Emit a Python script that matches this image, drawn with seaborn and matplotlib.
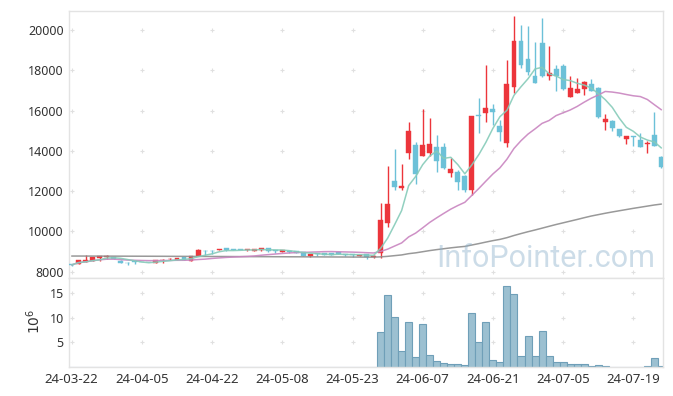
import numpy as np
import pandas as pd
import matplotlib
matplotlib.use('Agg')
import matplotlib.pyplot as plt
import seaborn as sns

# ---------------- data ----------------
opens = [8360, 8400, 8470, 8550, 8690, 8750, 8730, 8550, 8440, 8550,
         8490, 8480, 8450, 8560, 8610, 8580, 8720, 8550, 8770, 9040,
         9040, 9070, 9160, 9100, 9090, 9070, 9050, 9060, 9170, 9060,
         8980, 9040, 9010, 8960, 8800, 8930, 8930, 8910, 8960, 8880,
         8870, 8770, 8880, 8710, 8910, 10430, 12500, 12160, 13910, 14290,
         13760, 13880, 14210, 14210, 12920, 12960, 12750, 12060, 15780, 15860,
         16080, 15230, 14400, 17160, 19450, 18560, 17720, 19380, 17720, 18050,
         18210, 16690, 16890, 17060, 17320, 17100, 15450, 15480, 15090, 14570,
         14720, 14540, 14330, 14770, 13680]
highs = [8380, 8580, 8810, 8740, 8780, 8820, 8740, 8560, 8470, 8560,
         8500, 8490, 8580, 8620, 8680, 8670, 8730, 8770, 9130, 9080,
         9080, 9140, 9170, 9110, 9100, 9120, 9120, 9180, 9180, 9100,
         9080, 9050, 9020, 8970, 8890, 8940, 8940, 8920, 8970, 8890,
         8880, 8850, 8890, 8810, 11390, 13250, 14080, 13350, 15450, 14450,
         16080, 15620, 14790, 14400, 13660, 13050, 12800, 15730, 16610, 18260,
         16310, 15530, 18510, 20700, 20250, 20200, 19430, 20610, 19210, 18260,
         18300, 17700, 17600, 17490, 17550, 17150, 15810, 15530, 15100, 14730,
         14720, 14900, 14490, 15940, 13750]
lows = [8310, 8390, 8460, 8540, 8520, 8640, 8640, 8410, 8350, 8380,
        8460, 8460, 8420, 8420, 8580, 8570, 8580, 8520, 8760, 8830,
        8880, 9060, 9050, 9070, 9060, 9050, 9040, 9050, 9000, 8930,
        8970, 8940, 8920, 8790, 8710, 8800, 8840, 8820, 8870, 8760,
        8720, 8760, 8630, 8700, 8670, 10200, 12060, 12060, 13580, 12350,
        13760, 13750, 12970, 13120, 12720, 12060, 11970, 11810, 14900, 15420,
        15280, 14490, 14210, 16860, 18100, 17770, 17380, 17650, 17520, 16990,
        17000, 16690, 16860, 16770, 16950, 15650, 15040, 14990, 14700, 14330,
        14240, 14170, 13880, 14240, 13170]
closes = [8340, 8570, 8570, 8720, 8770, 8770, 8650, 8420, 8410, 8470,
          8470, 8470, 8570, 8600, 8640, 8660, 8590, 8760, 9080, 9010,
          9010, 9100, 9060, 9080, 9070, 9090, 9110, 9170, 9010, 9040,
          9060, 8960, 8930, 8800, 8880, 8900, 8850, 8830, 8880, 8850,
          8840, 8840, 8750, 8800, 10570, 11360, 12220, 12250, 14990, 12840,
          14290, 14340, 13510, 13160, 13110, 12470, 12060, 15730, 15730, 16140,
          15940, 14950, 17320, 19450, 18260, 17930, 17380, 17720, 17850, 17720,
          17050, 17110, 17060, 17400, 16990, 15670, 15600, 15150, 14720, 14720,
          14670, 14180, 14400, 14260, 13210]
# volume in millions of shares
volumes = [0.04, 0.05, 0.04, 0.03, 0.04, 0.03, 0.03, 0.04, 0.03, 0.03,
           0.02, 0.02, 0.03, 0.03, 0.02, 0.02, 0.03, 0.03, 0.06, 0.04,
           0.03, 0.03, 0.03, 0.02, 0.02, 0.02, 0.02, 0.03, 0.03, 0.02,
           0.02, 0.02, 0.02, 0.03, 0.03, 0.02, 0.02, 0.02, 0.02, 0.02,
           0.02, 0.02, 0.03, 0.03, 7.0, 14.5, 10.2, 3.2, 9.2, 2.1,
           8.65, 2.5, 1.15, 0.9, 0.67, 0.67, 0.47, 11.0, 5.15, 9.2,
           1.5, 0.95, 16.3, 14.7, 2.3, 6.35, 2.3, 7.35, 2.2, 1.1,
           1.1, 0.7, 0.7, 0.7, 0.3, 0.47, 0.27, 0.1, 0.1, 0.1,
           0.1, 0.1, 0.27, 1.9, 0.27]
# long moving average (gray line)
ma_long = [8780, 8780, 8779, 8778, 8777, 8776, 8775, 8774, 8773, 8772,
           8771, 8770, 8769, 8768, 8766, 8765, 8764, 8762, 8761, 8760,
           8758, 8757, 8756, 8754, 8753, 8752, 8750, 8749, 8748, 8746,
           8745, 8743, 8742, 8741, 8739, 8738, 8736, 8735, 8733, 8732,
           8730, 8729, 8727, 8726, 8739, 8765, 8800, 8835, 8898, 8939,
           8995, 9051, 9099, 9143, 9187, 9225, 9258, 9328, 9398, 9473,
           9545, 9607, 9693, 9800, 9896, 9988, 10074, 10164, 10256, 10346,
           10429, 10513, 10596, 10683, 10766, 10835, 10904, 10968, 11028, 11088,
           11148, 11203, 11259, 11315, 11360]
tick_labels = ['24-03-22', '24-04-05', '24-04-22', '24-05-08', '24-05-23',
               '24-06-07', '24-06-21', '24-07-05', '24-07-19']
tick_step = 10
price_ticks = [8000, 10000, 12000, 14000, 16000, 18000, 20000]
vol_ticks = [5, 10, 15]
watermark = 'InfoPointer.com'

# ---------------- style ----------------
sns.set_theme(style='white')
plt.rcParams['font.family'] = ['Noto Sans', 'DejaVu Sans']

RED = '#ec353b'
BLUE = '#6cc1d8'
TEAL = '#86cbb9'
PINK = '#c985c0'
GRAY = '#8e8e8e'
SPINE = '#e3e3e3'
GRID = '#e0e0e0'
TXT = '#333333'

W, H = 673, 396
fig = plt.figure(figsize=(W / 100, H / 100), dpi=100)
L, R = 69.3, 663.3
ax = fig.add_axes([L / W, 1 - 278 / H, (R - L) / W, (278 - 10.7) / H])
axv = fig.add_axes([L / W, 1 - 367 / H, (R - L) / W, (367 - 278) / H])

n = len(closes)
idx = np.arange(n)
df = pd.DataFrame({'i': idx, 'open': opens, 'high': highs, 'low': lows,
                   'close': closes, 'vol': volumes, 'ma_long': ma_long})
df['ma5'] = df['close'].rolling(5, min_periods=1).mean()
df['ma20'] = df['close'].rolling(20, min_periods=1).mean()

tick_pos = [k * tick_step for k in range(len(tick_labels))]

# grid "+" marks
for a, yt in ((ax, price_ticks), (axv, vol_ticks)):
    gx, gy = np.meshgrid(tick_pos, yt)
    a.scatter(gx.ravel(), gy.ravel(), marker='+', s=12, color=GRID,
              linewidths=0.8, zorder=0)

# candles
up = df['close'] >= df['open']
cols = np.where(up, RED, BLUE)
ax.vlines(df['i'], df['low'], df['high'], colors=cols, linewidth=1.0, zorder=3)
body_bot = np.minimum(df['open'], df['close'])
body_h = np.maximum(np.abs(df['close'] - df['open']), 35)
ax.bar(df['i'], body_h, bottom=body_bot, width=0.7, color=cols,
       edgecolor=cols, linewidth=0.3, zorder=4)

# moving averages
sns.lineplot(data=df, x='i', y='ma_long', ax=ax, color=GRAY, linewidth=1.1,
             zorder=5, alpha=0.9)
sns.lineplot(data=df, x='i', y='ma20', ax=ax, color=PINK, linewidth=1.1,
             zorder=5, alpha=0.9)
sns.lineplot(data=df, x='i', y='ma5', ax=ax, color=TEAL, linewidth=1.1,
             zorder=5, alpha=0.9)

# volume
sns.barplot(data=df, x='i', y='vol', ax=axv, native_scale=True, width=1.0,
            color='#9cc0d1', edgecolor='#6f9fb8', linewidth=0.8,
            saturation=1, errorbar=None, zorder=2)

xlim = (-0.34, 84.27)
for a in (ax, axv):
    a.set_xlim(*xlim)
    a.set_xlabel('')
    a.set_ylabel('')
    for s in a.spines.values():
        s.set_color(SPINE)
        s.set_linewidth(1.0)
    a.tick_params(length=0, colors=TXT, labelsize=9)

ax.set_ylim(7690, 20960)
ax.set_yticks(price_ticks)
ax.set_yticklabels([str(t) for t in price_ticks])
ax.set_xticks(tick_pos)
ax.set_xticklabels([])
ax.tick_params(axis='y', pad=4)

axv.set_ylim(0, 18)
axv.set_yticks(vol_ticks)
axv.set_yticklabels([str(t) for t in vol_ticks])
axv.set_xticks(tick_pos)
axv.set_xticklabels(tick_labels)
axv.tick_params(axis='y', pad=4)
axv.tick_params(axis='x', pad=4, labelsize=9.5)

fig.text(35 / W, 1 - 321 / H, r'$10^6$', rotation=90, ha='center',
         va='center', fontsize=10, color=TXT)

fig.text(546 / W, 1 - 267 / H, watermark, ha='center', va='baseline',
         fontsize=22, color='#8fb3cc', alpha=0.45, zorder=10,
         family=['Roboto', 'DejaVu Sans'])

fig.savefig('out.png', dpi=100)
